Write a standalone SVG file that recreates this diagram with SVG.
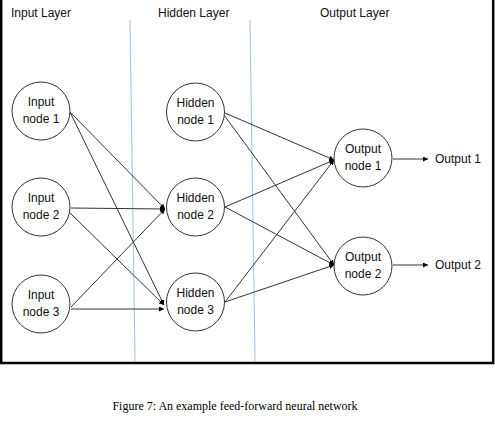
<svg xmlns="http://www.w3.org/2000/svg" width="495" height="421" viewBox="0 0 495 421">
<defs>
<marker id="ah" viewBox="0 0 10 10" refX="10" refY="5" markerWidth="5" markerHeight="5" orient="auto" markerUnits="userSpaceOnUse">
<path d="M0,0 L10,5 L0,10 z" fill="#000"/>
</marker>
<style>
.lbl{font-family:"Liberation Sans",Arial,sans-serif;font-size:12px;fill:#111;}
.nt{font-family:"Liberation Sans",Arial,sans-serif;font-size:12px;fill:#111;text-anchor:middle;}
.node{fill:#fff;stroke:#333;stroke-width:1;}
.edge{stroke:#333;stroke-width:1;fill:none;marker-end:url(#ah);}
.sep{stroke:#9fc3e3;stroke-width:1;}
.cap{font-family:"Liberation Serif","Times New Roman",serif;font-size:12px;fill:#000;text-anchor:middle;}
</style>
</defs>
<rect x="0" y="0" width="495" height="421" fill="#fff"/>
<rect x="1.2" y="-2" width="492" height="365" fill="none" stroke="#000" stroke-width="2.5"/>
<g id="separators">
<line class="sep" x1="130" y1="20" x2="135" y2="361"/>
<line class="sep" x1="250" y1="20" x2="255" y2="361"/>
</g>
<g id="layer-labels">
<text class="lbl" x="11" y="17">Input Layer</text>
<text class="lbl" x="158" y="17">Hidden Layer</text>
<text class="lbl" x="320" y="17">Output Layer</text>
</g>
<g id="connectors">
<line class="edge" x1="70" y1="112" x2="165" y2="209"/>
<line class="edge" x1="70" y1="112" x2="164" y2="305"/>
<line class="edge" x1="71" y1="208" x2="165" y2="209"/>
<line class="edge" x1="70" y1="213" x2="164" y2="305"/>
<line class="edge" x1="71" y1="307" x2="165" y2="209"/>
<line class="edge" x1="71" y1="309" x2="164" y2="309"/>
<line class="edge" x1="225" y1="113" x2="334" y2="160"/>
<line class="edge" x1="224" y1="115" x2="334" y2="265"/>
<line class="edge" x1="225" y1="207" x2="334" y2="160"/>
<line class="edge" x1="225" y1="207" x2="334" y2="265"/>
<line class="edge" x1="225" y1="302" x2="334" y2="160"/>
<line class="edge" x1="225" y1="302" x2="334" y2="265"/>
<line class="edge" x1="393" y1="159" x2="428" y2="159"/>
<line class="edge" x1="393" y1="265" x2="428" y2="265"/>
</g>
<g id="input1"><circle class="node" cx="41" cy="111" r="29"/><text class="nt" x="41" y="106">Input</text><text class="nt" x="41" y="123">node 1</text></g>
<g id="input2"><circle class="node" cx="41" cy="207" r="29"/><text class="nt" x="41" y="202">Input</text><text class="nt" x="41" y="219">node 2</text></g>
<g id="input3"><circle class="node" cx="41" cy="304" r="29"/><text class="nt" x="41" y="299">Input</text><text class="nt" x="41" y="316">node 3</text></g>
<g id="hidden1"><circle class="node" cx="195.5" cy="112" r="29"/><text class="nt" x="195.5" y="107">Hidden</text><text class="nt" x="195.5" y="124">node 1</text></g>
<g id="hidden2"><circle class="node" cx="195.5" cy="207" r="29"/><text class="nt" x="195.5" y="202">Hidden</text><text class="nt" x="195.5" y="219">node 2</text></g>
<g id="hidden3"><circle class="node" cx="195.5" cy="302" r="29"/><text class="nt" x="195.5" y="297">Hidden</text><text class="nt" x="195.5" y="314">node 3</text></g>
<g id="output1"><circle class="node" cx="363" cy="158" r="29"/><text class="nt" x="363" y="153">Output</text><text class="nt" x="363" y="170">node 1</text></g>
<g id="output2"><circle class="node" cx="363" cy="266" r="29"/><text class="nt" x="363" y="261">Output</text><text class="nt" x="363" y="278">node 2</text></g>
<g id="out-labels">
<text class="lbl" x="435" y="163">Output 1</text>
<text class="lbl" x="435" y="269">Output 2</text>
</g>
<text class="cap" x="235" y="410">Figure 7: An example feed-forward neural network</text>
</svg>
